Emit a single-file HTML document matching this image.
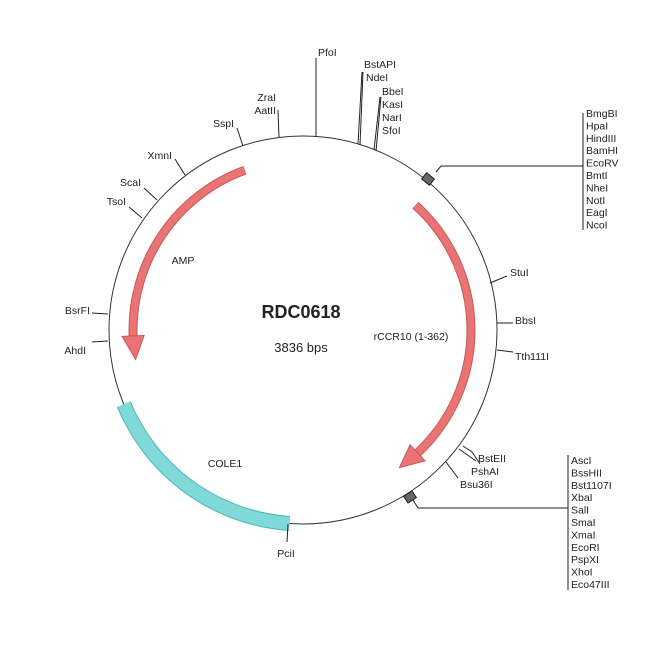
<!DOCTYPE html>
<html><head><meta charset="utf-8"><style>
html,body{margin:0;padding:0;background:#fff;}
svg{display:block;}
text{font-family:"Liberation Sans",sans-serif;fill:#222;}
.l{font-size:10.5px;}
</style></head><body>
<svg width="650" height="650" viewBox="0 0 650 650" xmlns="http://www.w3.org/2000/svg">
<circle cx="303" cy="330" r="194" fill="none" stroke="#333" stroke-width="1"/>
<!-- COLE1 -->
<path d="M123.8,404.2 A194,194 0 0 0 289.5,523.5" fill="none" stroke="#4fb5b5" stroke-width="15"/>
<path d="M123.8,404.2 A194,194 0 0 0 289.5,523.5" fill="none" stroke="#7fd9d9" stroke-width="13"/>
<!-- AMP arrow -->
<path d="M244.9,170.2 A170,170 0 0 0 133.1,335.9" fill="none" stroke="#c85858" stroke-width="9"/>
<path d="M244.9,170.2 A170,170 0 0 0 133.1,335.9" fill="none" stroke="#ea7474" stroke-width="7"/>
<polygon points="144.1,335.5 122.1,336.3 135.6,359.5" fill="#ea7474" stroke="#c85858" stroke-width="1"/>
<!-- rCCR10 arrow -->
<path d="M415.4,205.2 A168,168 0 0 1 417.6,452.9" fill="none" stroke="#c85858" stroke-width="9"/>
<path d="M415.4,205.2 A168,168 0 0 1 417.6,452.9" fill="none" stroke="#ea7474" stroke-width="7"/>
<polygon points="410.1,444.8 425.1,460.9 399.4,467.6" fill="#ea7474" stroke="#c85858" stroke-width="1"/>
<!-- ticks -->
<g stroke="#222" stroke-width="1" fill="none">
<path d="M316,137 L316,58"/>
<path d="M358,144 L362,72"/><path d="M360,145 L363,72"/>
<path d="M374,150 L380,97"/><path d="M376,151 L381,97"/>
<path d="M279,138 L278,110"/>
<path d="M243,146 L237,128"/>
<path d="M185,175 L175,159"/>
<path d="M157,200 L144,188"/>
<path d="M142,218 L129,207"/>
<path d="M108,314 L92,313"/>
<path d="M108,341 L92,342"/>
<path d="M288,524 L287,542"/>
<path d="M490,283 L507,276"/>
<path d="M497,323 L513,323"/>
<path d="M497,350 L513,352"/>
<path d="M459,449 L476,461"/><path d="M463,446 L472,452 L480,464"/>
<path d="M446,462 L458,478"/>
<!-- MCS1 -->
<path d="M436,172 L441,166 L583,166"/>
<path d="M583,113 L583,230"/>
<!-- MCS2 -->
<path d="M413,500 L418,508 L568,508"/>
<path d="M568,455 L568,590"/>
</g>
<rect x="-5" y="-4" width="10" height="8" fill="#666" stroke="#222" stroke-width="1" transform="translate(428,179) rotate(39)"/>
<rect x="-5" y="-4" width="10" height="8" fill="#666" stroke="#222" stroke-width="1" transform="translate(410,497) rotate(147)"/>
<!-- labels -->
<g class="l">
<text class="l" x="318" y="56">PfoI</text>
<text class="l" x="364" y="68">BstAPI</text>
<text class="l" x="366" y="81">NdeI</text>
<text class="l" x="382" y="95">BbeI</text>
<text class="l" x="382" y="108">KasI</text>
<text class="l" x="382" y="121">NarI</text>
<text class="l" x="382" y="134">SfoI</text>
<text class="l" x="276" y="101" text-anchor="end">ZraI</text>
<text class="l" x="276" y="114" text-anchor="end">AatII</text>
<text class="l" x="234" y="127" text-anchor="end">SspI</text>
<text class="l" x="172" y="159" text-anchor="end">XmnI</text>
<text class="l" x="141" y="186" text-anchor="end">ScaI</text>
<text class="l" x="126" y="205" text-anchor="end">TsoI</text>
<text class="l" x="90" y="314" text-anchor="end">BsrFI</text>
<text class="l" x="86" y="354" text-anchor="end">AhdI</text>
<text class="l" x="286" y="557" text-anchor="middle">PciI</text>
<text class="l" x="510" y="276">StuI</text>
<text class="l" x="515" y="324">BbsI</text>
<text class="l" x="515" y="360">Tth111I</text>
<text class="l" x="478" y="462">BstEII</text>
<text class="l" x="471" y="475">PshAI</text>
<text class="l" x="460" y="488">Bsu36I</text>
<text class="l" x="586" y="117">BmgBI</text>
<text class="l" x="586" y="129.4">HpaI</text>
<text class="l" x="586" y="141.8">HindIII</text>
<text class="l" x="586" y="154.2">BamHI</text>
<text class="l" x="586" y="166.6">EcoRV</text>
<text class="l" x="586" y="179">BmtI</text>
<text class="l" x="586" y="191.4">NheI</text>
<text class="l" x="586" y="203.8">NotI</text>
<text class="l" x="586" y="216.2">EagI</text>
<text class="l" x="586" y="228.6">NcoI</text>
<text class="l" x="571" y="464">AscI</text>
<text class="l" x="571" y="476.4">BssHII</text>
<text class="l" x="571" y="488.8">Bst1107I</text>
<text class="l" x="571" y="501.2">XbaI</text>
<text class="l" x="571" y="513.6">SalI</text>
<text class="l" x="571" y="526">SmaI</text>
<text class="l" x="571" y="538.4">XmaI</text>
<text class="l" x="571" y="550.8">EcoRI</text>
<text class="l" x="571" y="563.2">PspXI</text>
<text class="l" x="571" y="575.6">XhoI</text>
<text class="l" x="571" y="588">Eco47III</text>
<text class="l" x="183" y="264" text-anchor="middle">AMP</text>
<text class="l" x="411" y="340" text-anchor="middle">rCCR10 (1-362)</text>
<text class="l" x="225" y="467" text-anchor="middle">COLE1</text>
</g>
<text x="301" y="318" text-anchor="middle" font-size="18" font-weight="bold" fill="#111">RDC0618</text>
<text x="301" y="352" text-anchor="middle" font-size="13">3836 bps</text>
</svg>
</body></html>
